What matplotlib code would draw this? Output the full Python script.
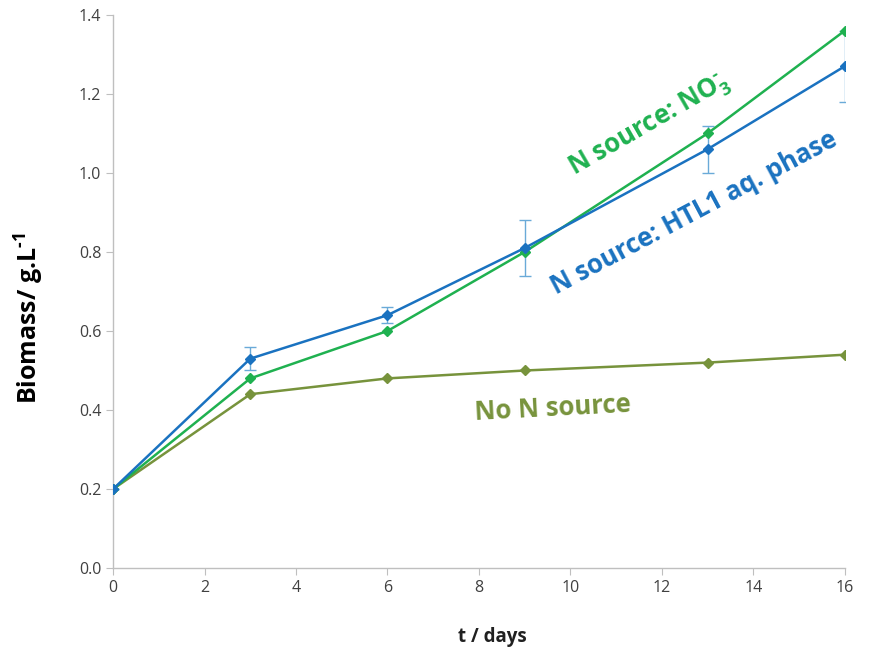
import matplotlib
matplotlib.use("Agg")
import matplotlib.pyplot as plt

days = [0, 3, 6, 9, 13, 16]
no3 = [0.20, 0.48, 0.60, 0.80, 1.10, 1.36]
htl = [0.20, 0.53, 0.64, 0.81, 1.06, 1.27]
htl_err = [0.0, 0.03, 0.02, 0.07, 0.06, 0.09]
non = [0.20, 0.44, 0.48, 0.50, 0.52, 0.54]

c_no3 = "#1fb150"
c_htl = "#1a72c0"
c_non = "#77933c"
c_err = "#6aaad8"

plt.rcParams['font.family'] = ['Open Sans', 'DejaVu Sans']
plt.rcParams['mathtext.fontset'] = 'custom'
plt.rcParams['mathtext.rm'] = 'Open Sans:bold'
plt.rcParams['mathtext.bf'] = 'Open Sans:bold'
plt.rcParams['mathtext.it'] = 'Open Sans:bold'

fig = plt.figure(figsize=(8.7, 6.47), dpi=100)
ax = fig.add_axes([0.130, 0.122, 0.841, 0.855])

ax.errorbar(days, htl, yerr=htl_err, fmt='none', ecolor=c_err, elinewidth=1.0, capsize=4, capthick=1.0, zorder=1)
ax.plot(days, non, color=c_non, lw=1.8, marker='D', ms=5, zorder=2)
ax.plot(days, no3, color=c_no3, lw=1.8, marker='D', ms=5, zorder=3)
ax.plot(days, htl, color=c_htl, lw=1.8, marker='D', ms=5, zorder=4)

ax.set_xlim(0, 16)
ax.set_ylim(0, 1.4)
ax.set_xticks([0, 2, 4, 6, 8, 10, 12, 14, 16])
ax.set_yticks([0.0, 0.2, 0.4, 0.6, 0.8, 1.0, 1.2, 1.4])
ax.set_yticklabels(["0.0", "0.2", "0.4", "0.6", "0.8", "1.0", "1.2", "1.4"])
for s in ['top', 'right']:
    ax.spines[s].set_visible(False)
for s in ['left', 'bottom']:
    ax.spines[s].set_color('#bfbfbf')
    ax.spines[s].set_linewidth(1.0)
ax.tick_params(axis='both', colors='#bfbfbf', labelcolor='#404040', labelsize=11.5, length=5, direction='out')

ax.set_xlabel("t / days", fontsize=13.5, fontweight='bold', color='#202020')
ax.xaxis.set_label_coords(0.519, -0.106)

fig.text(0.034, 0.508, "Biomass/ g.L$^{\\text{-1}}$", rotation=90, ha='center', va='center',
         fontsize=18, fontweight='bold', color='#000000')

ax.text(11.74, 1.12, "N source: NO$_3^{\\text{-}}$", rotation=30,
        color=c_no3, fontsize=18.5, fontweight='bold', ha='center', va='center')
ax.text(12.70, 0.90, "N source: HTL1 aq. phase", rotation=28,
        color=c_htl, fontsize=18.5, fontweight='bold', ha='center', va='center')
ax.text(9.62, 0.405, "No N source", rotation=3,
        color=c_non, fontsize=18.5, fontweight='bold', ha='center', va='center')

fig.savefig("out.png", dpi=100)
